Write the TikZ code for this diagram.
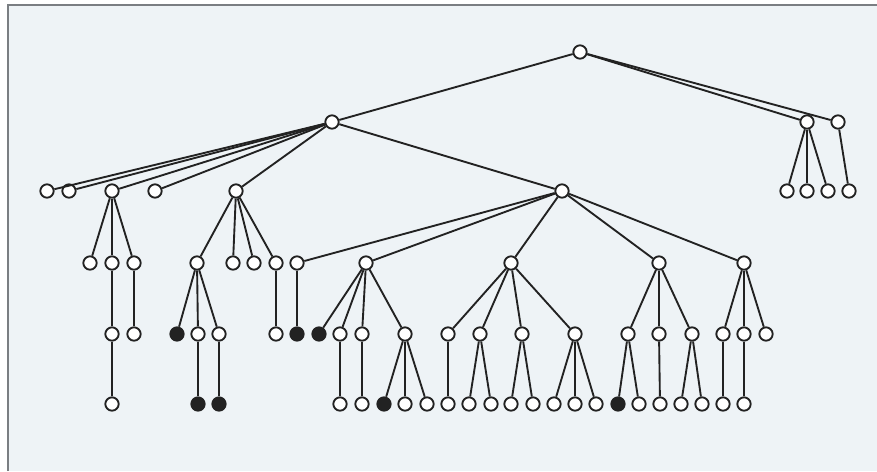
\documentclass[tikz,border=0pt]{standalone}
\usepackage{tikz}
\definecolor{paper}{HTML}{EEF3F6}
\definecolor{frame}{HTML}{7A7E82}
\definecolor{ink}{HTML}{222222}

\begin{document}
\begin{tikzpicture}[x=0.03cm, y=-0.03cm, line width=1.6pt, draw=ink,
    open/.style={draw=ink, shape=circle, fill=white, inner sep=0, minimum size=0.4cm},
    shut/.style={open, fill=ink}]

    % Sheet
    \useasboundingbox (0, 0) rectangle (877, 471);
    \fill[paper] (8, 5) rectangle (877, 471);
    \draw[frame, line width=0.9pt] (8, 471) -- (8, 5) -- (877, 5);

    % Root and first level
    \node[open] (r) at (580, 52) {};
    \node[open] (a) at (332, 122) {};
    \node[open] (b) at (807, 122) {};
    \node[open] (c) at (838, 122) {};

    % Second level
    \node[open] (a1) at (47, 191) {};
    \node[open] (a2) at (69, 191) {};
    \node[open] (a3) at (112, 191) {};
    \node[open] (a4) at (155, 191) {};
    \node[open] (a5) at (236, 191) {};
    \node[open] (a6) at (562, 191) {};
    \node[open] (b1) at (787, 191) {};
    \node[open] (b2) at (807, 191) {};
    \node[open] (b3) at (828, 191) {};
    \node[open] (c1) at (849, 191) {};

    % Third level
    \node[open] (a31) at (90, 263) {};
    \node[open] (a32) at (112, 263) {};
    \node[open] (a33) at (134, 263) {};
    \node[open] (a51) at (197, 263) {};
    \node[open] (a52) at (233, 263) {};
    \node[open] (a53) at (254, 263) {};
    \node[open] (a54) at (276, 263) {};
    \node[open] (a61) at (297, 263) {};
    \node[open] (a62) at (366, 263) {};
    \node[open] (a63) at (511, 263) {};
    \node[open] (a64) at (659, 263) {};
    \node[open] (a65) at (744, 263) {};

    % Fourth level
    \node[open] (a321) at (112, 334) {};
    \node[open] (a331) at (134, 334) {};
    \node[shut] (a511) at (177, 334) {};
    \node[open] (a512) at (198, 334) {};
    \node[open] (a513) at (219, 334) {};
    \node[open] (a541) at (276, 334) {};
    \node[shut] (a611) at (297, 334) {};
    \node[shut] (a621) at (319, 334) {};
    \node[open] (a622) at (340, 334) {};
    \node[open] (a623) at (362, 334) {};
    \node[open] (a624) at (405, 334) {};
    \node[open] (a631) at (448, 334) {};
    \node[open] (a632) at (480, 334) {};
    \node[open] (a633) at (522, 334) {};
    \node[open] (a634) at (575, 334) {};
    \node[open] (a641) at (628, 334) {};
    \node[open] (a642) at (659, 334) {};
    \node[open] (a643) at (692, 334) {};
    \node[open] (a651) at (723, 334) {};
    \node[open] (a652) at (744, 334) {};
    \node[open] (a653) at (766, 334) {};

    % Fifth level
    \node[open] (a3211) at (112, 404) {};
    \node[shut] (a5121) at (198, 404) {};
    \node[shut] (a5131) at (219, 404) {};
    \node[open] (a6221) at (340, 404) {};
    \node[open] (a6231) at (362, 404) {};
    \node[shut] (a6241) at (384, 404) {};
    \node[open] (a6242) at (405, 404) {};
    \node[open] (a6243) at (427, 404) {};
    \node[open] (a6311) at (448, 404) {};
    \node[open] (a6321) at (469, 404) {};
    \node[open] (a6322) at (491, 404) {};
    \node[open] (a6331) at (511, 404) {};
    \node[open] (a6332) at (533, 404) {};
    \node[open] (a6341) at (554, 404) {};
    \node[open] (a6342) at (575, 404) {};
    \node[open] (a6343) at (596, 404) {};
    \node[shut] (a6411) at (618, 404) {};
    \node[open] (a6412) at (639, 404) {};
    \node[open] (a6421) at (660, 404) {};
    \node[open] (a6431) at (681, 404) {};
    \node[open] (a6432) at (702, 404) {};
    \node[open] (a6511) at (723, 404) {};
    \node[open] (a6521) at (744, 404) {};

    % Edges from the root
    \draw (r) -- (a);
    \draw (r) -- (b);
    \draw (r) -- (c);
    \draw (b) -- (b1);
    \draw (b) -- (b2);
    \draw (b) -- (b3);
    \draw (c) -- (c1);

    % Left subtree
    \draw (a) -- (a1);
    \draw (a) -- (a2);
    \draw (a) -- (a3);
    \draw (a) -- (a4);
    \draw (a) -- (a5);
    \draw (a) -- (a6);
    \draw (a3) -- (a31);
    \draw (a3) -- (a32);
    \draw (a3) -- (a33);
    \draw (a32) -- (a321);
    \draw (a33) -- (a331);
    \draw (a321) -- (a3211);
    \draw (a5) -- (a51);
    \draw (a5) -- (a52);
    \draw (a5) -- (a53);
    \draw (a5) -- (a54);
    \draw (a51) -- (a511);
    \draw (a51) -- (a512);
    \draw (a51) -- (a513);
    \draw (a512) -- (a5121);
    \draw (a513) -- (a5131);
    \draw (a54) -- (a541);

    % Middle subtree
    \draw (a6) -- (a61);
    \draw (a6) -- (a62);
    \draw (a6) -- (a63);
    \draw (a6) -- (a64);
    \draw (a6) -- (a65);
    \draw (a61) -- (a611);
    \draw (a62) -- (a621);
    \draw (a62) -- (a622);
    \draw (a62) -- (a623);
    \draw (a62) -- (a624);
    \draw (a622) -- (a6221);
    \draw (a623) -- (a6231);
    \draw (a624) -- (a6241);
    \draw (a624) -- (a6242);
    \draw (a624) -- (a6243);
    \draw (a63) -- (a631);
    \draw (a63) -- (a632);
    \draw (a63) -- (a633);
    \draw (a63) -- (a634);
    \draw (a631) -- (a6311);
    \draw (a632) -- (a6321);
    \draw (a632) -- (a6322);
    \draw (a633) -- (a6331);
    \draw (a633) -- (a6332);
    \draw (a634) -- (a6341);
    \draw (a634) -- (a6342);
    \draw (a634) -- (a6343);
    \draw (a64) -- (a641);
    \draw (a64) -- (a642);
    \draw (a64) -- (a643);
    \draw (a641) -- (a6411);
    \draw (a641) -- (a6412);
    \draw (a642) -- (a6421);
    \draw (a643) -- (a6431);
    \draw (a643) -- (a6432);
    \draw (a65) -- (a651);
    \draw (a65) -- (a652);
    \draw (a65) -- (a653);
    \draw (a651) -- (a6511);
    \draw (a652) -- (a6521);

\end{tikzpicture}
\end{document}
